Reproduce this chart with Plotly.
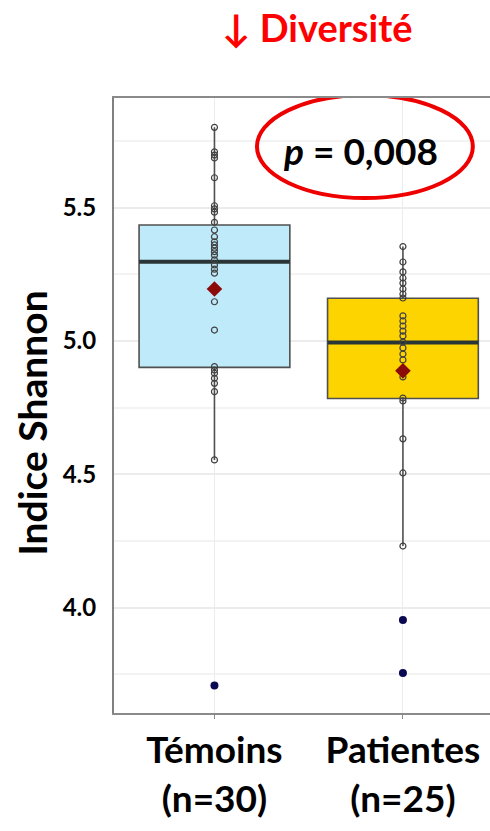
import plotly.graph_objects as go

# ---------------- data ----------------
groups = ["Témoins", "Patientes"]
tick_labels = ["Témoins<br>(n=30)", "Patientes<br>(n=25)"]
fill_colors = ["#bfeafa", "#fdd400"]

temoins = [5.801, 5.709, 5.697, 5.686, 5.612, 5.507, 5.495, 5.483, 5.445, 5.416,
           5.391, 5.372, 5.360, 5.348, 5.335, 5.322, 5.304, 5.285, 5.269, 5.254,
           5.147, 5.041, 4.904, 4.891, 4.879, 4.860, 4.841, 4.810, 4.554, 3.708]
patientes = [5.354, 5.296, 5.259, 5.236, 5.217, 5.195, 5.176, 5.161, 5.094, 5.075,
             5.056, 5.037, 5.019, 4.996, 4.974, 4.951, 4.929, 4.865, 4.786, 4.775,
             4.633, 4.505, 4.231, 3.954, 3.755]
samples = [temoins, patientes]

q1 = [4.901, 4.784]
median = [5.297, 4.994]
q3 = [5.435, 5.160]
lowerfence = [4.554, 4.231]
upperfence = [5.801, 5.354]
means = [5.195, 4.888]

y_title = "<b>Indice Shannon</b>"
p_text = "<b><i>p</i> = 0,008</b>"
title_text = "<b>↓ Diversité</b>"

FONT = "Lato"
BOX_W = 0.8

fig = go.Figure()

for i, g in enumerate(groups):
    fig.add_trace(go.Box(
        x=[i], q1=[q1[i]], median=[median[i]], q3=[q3[i]],
        lowerfence=[lowerfence[i]], upperfence=[upperfence[i]],
        width=BOX_W, whiskerwidth=0, boxpoints=False,
        fillcolor=fill_colors[i],
        line=dict(color="#505050", width=1.6),
        showlegend=False, hoverinfo="skip",
    ))
    # thick median line
    fig.add_trace(go.Scatter(
        x=[i - BOX_W / 2, i + BOX_W / 2], y=[median[i], median[i]],
        mode="lines", line=dict(color="#2a3535", width=4),
        showlegend=False, hoverinfo="skip",
    ))
    inside = [v for v in samples[i] if lowerfence[i] <= v <= upperfence[i]]
    outside = [v for v in samples[i] if v < lowerfence[i] or v > upperfence[i]]
    fig.add_trace(go.Scatter(
        x=[i] * len(inside), y=inside, mode="markers",
        marker=dict(symbol="circle-open", size=6, color="#404040",
                    line=dict(width=1.2)),
        showlegend=False, hoverinfo="skip",
    ))
    fig.add_trace(go.Scatter(
        x=[i] * len(outside), y=outside, mode="markers",
        marker=dict(symbol="circle", size=8, color="#0a0a50"),
        showlegend=False, hoverinfo="skip",
    ))
    fig.add_trace(go.Scatter(
        x=[i], y=[means[i]], mode="markers",
        marker=dict(symbol="diamond", size=12, color="#8b0a0a"),
        showlegend=False, hoverinfo="skip",
    ))

fig.update_layout(
    width=490, height=831,
    margin=dict(l=114, r=0, t=98, b=118),
    paper_bgcolor="white", plot_bgcolor="white",
    font=dict(family=FONT, color="black"),
    xaxis=dict(
        range=[-0.533, 1.462], tickmode="array", tickvals=[0, 1],
        ticktext=["<b>%s</b>" % t for t in tick_labels],
        tickfont=dict(family=FONT, size=37, color="black"),
        showgrid=True, gridcolor="#ececec", gridwidth=1,
        showline=True, linecolor="#8a8a8a", linewidth=2, mirror=True,
        ticks="outside", ticklen=4, tickcolor="#8a8a8a", tickwidth=1,
        zeroline=False,
    ),
    yaxis=dict(
        range=[3.605, 5.911], tickmode="linear", tick0=4.0, dtick=0.5,
        tickformat=".1f",
        tickfont=dict(family=FONT, size=24, color="black"),
        tickprefix="<b>", ticksuffix="</b>",
        showgrid=True, gridcolor="#ececec", gridwidth=1.5,
        minor=dict(dtick=0.25, tick0=4.0, showgrid=True, gridcolor="#f3f3f3", gridwidth=1.5),
        showline=True, linecolor="#808080", linewidth=2,
        ticks="", ticklabelstandoff=11,
        zeroline=False,
    ),
    shapes=[dict(type="circle", xref="x", yref="y",
                 x0=0.2255, x1=1.371, y0=5.536, y1=5.922,
                 line=dict(color="#ee0000", width=4), layer="above")],
    annotations=[
        dict(text=y_title, xref="paper", yref="paper", x=-0.219, y=0.4715,
             textangle=-90, showarrow=False,
             font=dict(family=FONT, size=39, color="black"),
             xanchor="center", yanchor="middle"),
        dict(text=p_text, xref="x", yref="y", x=0.777, y=5.716,
             showarrow=False, font=dict(family=FONT, size=37, color="black"),
             xanchor="center", yanchor="middle"),
        dict(text=title_text, xref="paper", yref="paper", x=0.541, y=1.115,
             showarrow=False, font=dict(family=FONT, size=38, color="#ff0000"),
             xanchor="center", yanchor="middle"),
    ],
)

fig.write_html("out.html")
